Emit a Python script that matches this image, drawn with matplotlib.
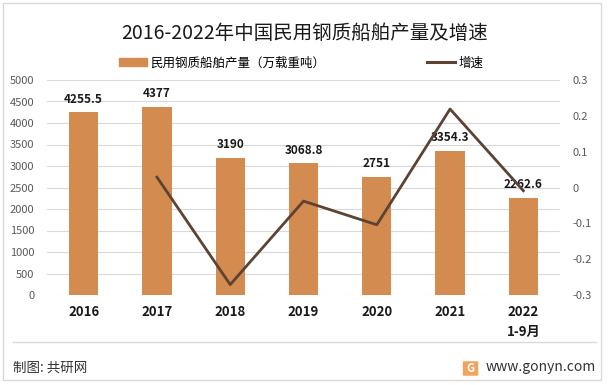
import matplotlib.pyplot as plt
from matplotlib.lines import Line2D
from matplotlib.patches import Patch, Rectangle, FancyBboxPatch

plt.rcParams['font.family'] = ['Noto Sans CJK SC', 'DejaVu Sans']

years = ['2016', '2017', '2018', '2019', '2020', '2021', '2022\n1-9月']
output = [4255.5, 4377, 3190, 3068.8, 2751, 3354.3, 2262.6]
growth = [None, 0.029, -0.271, -0.038, -0.104, 0.219, -0.009]

bar_color = '#D48B4F'
line_color = '#5C4333'

fig = plt.figure(figsize=(6.12, 3.85), dpi=100)
fig.patches.append(Rectangle((3 / 612, 1 - 380 / 385), 598 / 612, 377 / 385,
                             transform=fig.transFigure, fill=False,
                             edgecolor='#D9D9D9', linewidth=1))

ax = fig.add_axes([47 / 612, 1 - 295 / 385, 513 / 612, 215 / 385])
x = list(range(len(years)))
ax.bar(x, output, width=0.4, color=bar_color, zorder=2)
for xi, v in zip(x, output):
    ax.text(xi, v + 150, f'{v:g}', ha='center', va='bottom', fontsize=8.5,
            fontweight='bold', color='#1a1a1a', zorder=4)

ax.set_xlim(-0.5, len(years) - 0.5)
ax.set_ylim(0, 5000)
ax.set_yticks(range(0, 5001, 500))
ax.grid(axis='y', color='#D9D9D9', linewidth=0.8, zorder=0)
ax.set_xticks(x)
ax.set_xticklabels(years, fontsize=9.5, fontweight='bold', color='#1a1a1a', linespacing=1.6)
ax.tick_params(axis='y', labelsize=8, labelcolor='#595959', length=0, pad=9)
ax.tick_params(axis='x', length=0, pad=7)
for s in ax.spines.values():
    s.set_visible(False)

ax2 = ax.twinx()
gx = [xi for xi, g in zip(x, growth) if g is not None]
gy = [g for g in growth if g is not None]
ax2.plot(gx, gy, color=line_color, linewidth=2, zorder=3)
ax2.set_ylim(-0.3, 0.3)
ax2.set_yticks([-0.3, -0.2, -0.1, 0, 0.1, 0.2, 0.3])
ax2.set_yticklabels(['-0.3', '-0.2', '-0.1', '0', '0.1', '0.2', '0.3'])
ax2.tick_params(axis='y', labelsize=8, labelcolor='#595959', length=0, pad=9)
for s in ax2.spines.values():
    s.set_visible(False)

fig.text(305 / 612, 1 - 33 / 385, '2016-2022年中国民用钢质船舶产量及增速', ha='center', va='center',
         fontsize=14, color='#1a1a1a')

handles = [Patch(color=bar_color), Line2D([], [], color=line_color, linewidth=2.2)]
fig.legend(handles[:1], ['民用钢质船舶产量（万载重吨）'], loc='center left',
           bbox_to_anchor=(108 / 612, 1 - 63 / 385), frameon=False, fontsize=9,
           handlelength=2.2, handleheight=0.55, handletextpad=0.3)
fig.legend(handles[1:], ['增速'], loc='center left',
           bbox_to_anchor=(416 / 612, 1 - 63 / 385), frameon=False, fontsize=9,
           handlelength=2.2, handletextpad=0.3)

fig.add_artist(Line2D([13 / 612, 596 / 612], [1 - 342 / 385, 1 - 342 / 385],
                      transform=fig.transFigure, color='#D9D9D9', linewidth=1))
fig.text(13 / 612, 1 - 368 / 385, '制图: 共研网', ha='left', va='center', fontsize=9.7, color='#333333')
fig.patches.append(FancyBboxPatch((464 / 612, 1 - 375 / 385), 13 / 612, 13 / 385,
                                  boxstyle='round,pad=0.002', transform=fig.transFigure,
                                  facecolor='#F2A35E', edgecolor='none'))
fig.text(470.5 / 612, 1 - 368.5 / 385, 'G', ha='center', va='center', fontsize=8,
         fontweight='bold', color='white')
fig.text(596 / 612, 1 - 367 / 385, 'www.gonyn.com', ha='right', va='center', fontsize=10,
         color='#333333')

fig.savefig('out.png', dpi=100)
